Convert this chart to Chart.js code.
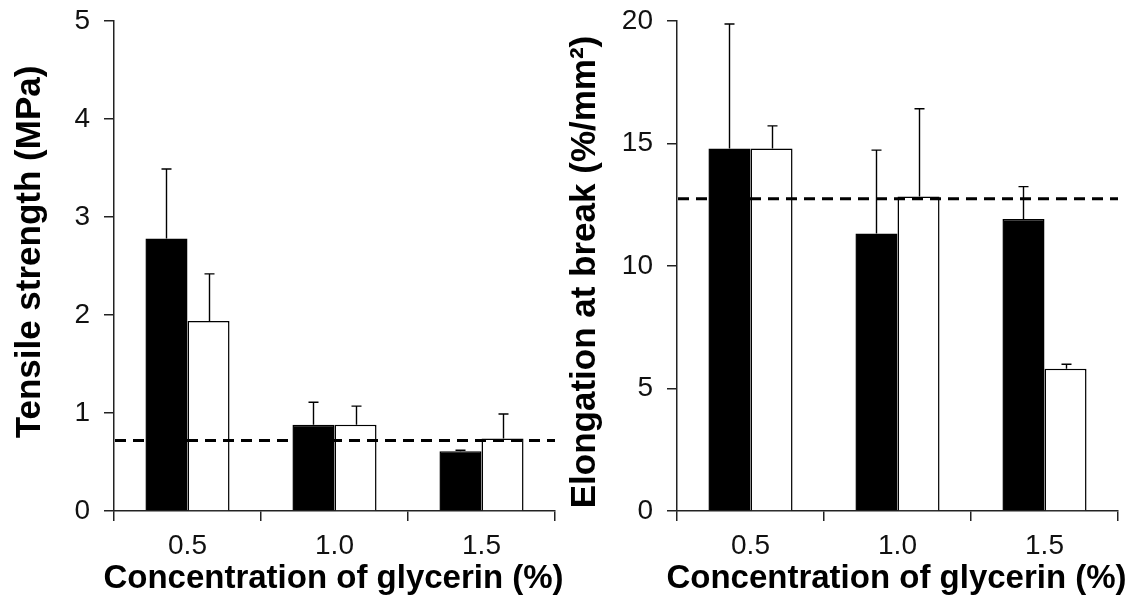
<!DOCTYPE html>
<html>
<head>
<meta charset="utf-8">
<script src="https://cdn.jsdelivr.net/npm/chart.js@4.4.1/dist/chart.umd.min.js"></script>
<style>
html,body{margin:0;padding:0;background:#fff;}
.wrap{position:absolute;top:0;width:566px;height:609px;}
canvas{display:block;}
</style>
</head>
<body>
<div class="wrap" style="left:0"><canvas id="c1" width="566" height="609"></canvas></div>
<div class="wrap" style="left:566px"><canvas id="c2" width="566" height="609"></canvas></div>
<script>
// ---- data ----
const categories = ['0.5', '1.0', '1.5'];

const tensileBlack    = [2.78, 0.88, 0.61];
const tensileBlackErr = [0.71, 0.23, 0.01];
const tensileWhite    = [1.94, 0.88, 0.74];
const tensileWhiteErr = [0.48, 0.19, 0.25];
const tensileRef      = 0.72;
const tensileTicks    = [0, 1, 2, 3, 4, 5];

const elongBlack    = [14.8, 11.33, 11.92];
const elongBlackErr = [5.08, 3.40, 1.32];
const elongWhite    = [14.8, 12.84, 5.81];
const elongWhiteErr = [0.92, 3.58, 0.18];
const elongRef      = 12.75;
const elongTicks    = [0, 5, 10, 15, 20];

const xTitle = 'Concentration of glycerin (%)';
const yTitleLeft = 'Tensile strength (MPa)';
const yTitleRight = 'Elongation at break (%/mm\u00B2)';

// ---- plugins ----
const FONT = '"Liberation Sans", Arial, Helvetica, sans-serif';

const errorBarPlugin = {
  id: 'errorBars',
  afterDatasetsDraw(chart) {
    const ctx = chart.ctx;
    const yScale = chart.scales.y;
    ctx.save();
    ctx.strokeStyle = '#000';
    ctx.lineWidth = 1.4;
    chart.data.datasets.forEach((ds, i) => {
      const meta = chart.getDatasetMeta(i);
      meta.data.forEach((el, j) => {
        const v = ds.data[j];
        const e = ds.errors[j];
        const x = Math.round(el.x) + 0.5;
        const y0 = yScale.getPixelForValue(v);
        const y1 = yScale.getPixelForValue(v + e);
        ctx.beginPath();
        ctx.moveTo(x, y0);
        ctx.lineTo(x, y1);
        ctx.moveTo(x - 5, y1);
        ctx.lineTo(x + 5, y1);
        ctx.stroke();
      });
    });
    ctx.restore();
  }
};

const refLinePlugin = {
  id: 'refLine',
  afterDatasetsDraw(chart, args, opts) {
    const ctx = chart.ctx;
    const ca = chart.chartArea;
    const y = chart.scales.y.getPixelForValue(opts.value);
    ctx.save();
    ctx.strokeStyle = '#000';
    ctx.lineWidth = 3;
    ctx.setLineDash([11, 7]);
    ctx.beginPath();
    ctx.moveTo(ca.left + 1, y);
    ctx.lineTo(ca.right, y);
    ctx.stroke();
    ctx.restore();
  }
};

const axisTitlePlugin = {
  id: 'axisTitles',
  afterDraw(chart, args, opts) {
    const ctx = chart.ctx;
    const ca = chart.chartArea;
    ctx.save();
    ctx.fillStyle = '#000';
    ctx.textAlign = 'center';
    ctx.textBaseline = 'alphabetic';
    ctx.font = 'bold ' + opts.xSize + 'px ' + FONT;
    ctx.fillText(opts.xText, (ca.left + ca.right) / 2 + opts.xShift, opts.xBaseline);
    ctx.translate(opts.yBaseline, opts.yCenter);
    ctx.rotate(-Math.PI / 2);
    ctx.font = 'bold ' + opts.ySize + 'px ' + FONT;
    ctx.fillText(opts.yText, 0, 0);
    ctx.restore();
  }
};

function makeChart(id, black, blackErr, white, whiteErr, ref, ticks, yTitle, cfg) {
  const yMax = ticks[ticks.length - 1];
  const step = ticks[1] - ticks[0];
  return new Chart(document.getElementById(id), {
    type: 'bar',
    data: {
      labels: categories,
      datasets: [
        { data: black, errors: blackErr, backgroundColor: '#000', borderColor: '#000', borderWidth: 1.5,
          categoryPercentage: 0.572, barPercentage: 1.0 },
        { data: white, errors: whiteErr, backgroundColor: '#fff', borderColor: '#000', borderWidth: 1.5,
          categoryPercentage: 0.572, barPercentage: 1.0 }
      ]
    },
    options: {
      responsive: false,
      animation: false,
      layout: { padding: { left: 0, right: cfg.padRight, top: 21, bottom: 0 } },
      plugins: {
        legend: { display: false },
        tooltip: { enabled: false },
        refLine: { value: ref },
        axisTitles: {
          xText: xTitle, xSize: 33, xShift: -1, xBaseline: 588,
          yText: yTitle, ySize: 35, yBaseline: cfg.yBaseline, yCenter: cfg.yCenter
        }
      },
      scales: {
        x: {
          type: 'category',
          offset: true,
          grid: { offset: true, drawOnChartArea: false, drawTicks: true, tickLength: 10, color: '#222', lineWidth: 1.5 },
          border: { display: true, color: '#222', width: 1.5 },
          ticks: { color: '#111', font: { family: FONT, size: 28 }, padding: 8 },
          afterFit(scale) { scale.height = 98; scale.paddingLeft = 0; scale.paddingRight = 0; }
        },
        y: {
          min: 0,
          max: yMax,
          afterBuildTicks(scale) { scale.ticks = ticks.map(v => ({ value: v })); },
          grid: { drawOnChartArea: false, drawTicks: true, tickLength: 10, color: '#222', lineWidth: 1.5 },
          border: { display: true, color: '#222', width: 1.5 },
          ticks: { stepSize: step, color: '#111', font: { family: FONT, size: 28 }, padding: 14 },
          afterFit(scale) { scale.width = cfg.axisX; scale.paddingTop = 0; scale.paddingBottom = 0; }
        }
      }
    },
    plugins: [errorBarPlugin, refLinePlugin, axisTitlePlugin]
  });
}

makeChart('c1', tensileBlack, tensileBlackErr, tensileWhite, tensileWhiteErr, tensileRef, tensileTicks, yTitleLeft,
  { axisX: 114, padRight: 11, yBaseline: 40, yCenter: 252 });
makeChart('c2', elongBlack, elongBlackErr, elongWhite, elongWhiteErr, elongRef, elongTicks, yTitleRight,
  { axisX: 111, padRight: 14, yBaseline: 29, yCenter: 272 });
</script>
</body>
</html>
